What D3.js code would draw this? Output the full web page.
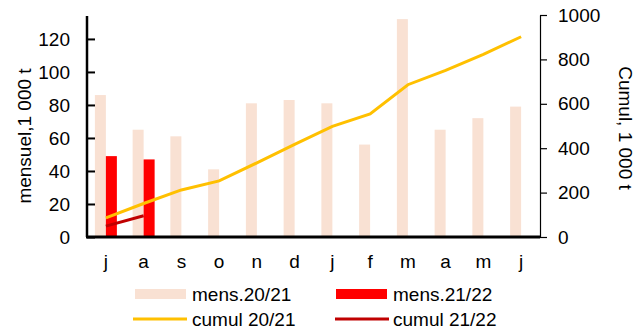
<!DOCTYPE html>
<html><head><meta charset="utf-8">
<script src="https://cdn.jsdelivr.net/npm/d3@7"></script>
<style>
body{margin:0;background:#fff;}
text{font-family:"Liberation Sans",Arial,sans-serif;fill:#000;}
</style></head>
<body>
<svg id="c" width="643" height="335"></svg>
<script>
const months = ["j","a","s","o","n","d","j","f","m","a","m","j"];
const mens2021 = [86,65,61,41,81,83,81,56,132,65,72,79];
const mens2122 = [49,47];
const cumul2021 = [86,151,212,253,334,417,498,554,686,751,823,902];
const cumul2122 = [49,96];
const leftTicks = [0,20,40,60,80,100,120];
const rightTicks = [0,200,400,600,800,1000];

const svg = d3.select("#c");
const L = 87, R = 540, T = 15, B = 237;
const idx = months.map((d,i)=>i);
const x = d3.scaleBand().domain(idx).range([L,R]).padding(0);
const bw = 11;
const yL = d3.scaleLinear().domain([0,134.5]).range([B,T]);
const yR = d3.scaleLinear().domain([0,1000]).range([B,T]);
const cx = i => x(i) + x.bandwidth()/2;

// bars
svg.append("g").selectAll("rect").data(mens2021).join("rect")
  .attr("x",(d,i)=>cx(i)-bw).attr("width",bw)
  .attr("y",d=>yL(d)).attr("height",d=>B-yL(d)).attr("fill","#f9e1d3");
svg.append("g").selectAll("rect").data(mens2122).join("rect")
  .attr("x",(d,i)=>cx(i)).attr("width",bw)
  .attr("y",d=>yL(d)).attr("height",d=>B-yL(d)).attr("fill","#ff0000");

// lines
const line = d3.line().x((d,i)=>cx(i)).y(d=>yR(d));
svg.append("path").datum(cumul2021).attr("d",line).attr("fill","none")
  .attr("stroke","#ffc000").attr("stroke-width",3);
svg.append("path").datum(cumul2122).attr("d",line).attr("fill","none")
  .attr("stroke","#c00000").attr("stroke-width",3);

// left axis
const gl = svg.append("g").attr("transform",`translate(${L},0)`)
  .call(d3.axisLeft(yL).tickValues(leftTicks).tickSizeInner(-8).tickSizeOuter(0).tickPadding(17));
gl.select(".domain").attr("stroke","#000").attr("stroke-width",2.5).attr("d",`M0,${T+1}V${B}`);
gl.selectAll(".tick line").attr("stroke","#000").attr("stroke-width",2);
gl.selectAll(".tick text").attr("font-size",19).attr("font-family","Liberation Sans, Arial, sans-serif");

// right axis
const gr = svg.append("g").attr("transform",`translate(${R},0)`)
  .call(d3.axisRight(yR).tickValues(rightTicks).tickFormat(d3.format("d")).tickSizeInner(7).tickSizeOuter(0).tickPadding(11));
gr.select(".domain").attr("stroke","#000").attr("stroke-width",1.2);
gr.selectAll(".tick line").attr("stroke","#000").attr("stroke-width",1.2);
gr.selectAll(".tick text").attr("font-size",19).attr("font-family","Liberation Sans, Arial, sans-serif");

// bottom axis
const gb = svg.append("g").attr("transform",`translate(0,${B})`)
  .call(d3.axisBottom(x).tickFormat(i=>months[i]).tickSize(0).tickPadding(18));
gb.select(".domain").attr("stroke","#000").attr("stroke-width",3).attr("d",`M${L-1},0H${R}`);
gb.selectAll(".tick text").attr("font-size",19).attr("font-family","Liberation Sans, Arial, sans-serif");

// axis titles
svg.append("text").attr("transform","translate(31,136) rotate(-90)")
  .attr("text-anchor","middle").attr("font-size",19).text("mensuel,1 000 t");
svg.append("text").attr("transform","translate(619,128) rotate(90)")
  .attr("text-anchor","middle").attr("font-size",19).text("Cumul, 1 000 t");

// legend
const leg = svg.append("g");
leg.append("rect").attr("x",135).attr("y",289).attr("width",51).attr("height",10).attr("fill","#f9e1d3");
leg.append("text").attr("x",192).attr("y",301).attr("font-size",19).text("mens.20/21");
leg.append("rect").attr("x",336).attr("y",289).attr("width",51).attr("height",10).attr("fill","#ff0000");
leg.append("text").attr("x",393).attr("y",301).attr("font-size",19).text("mens.21/22");
leg.append("line").attr("x1",133).attr("x2",187).attr("y1",319).attr("y2",319).attr("stroke","#ffc000").attr("stroke-width",3);
leg.append("text").attr("x",192).attr("y",326).attr("font-size",19).text("cumul 20/21");
leg.append("line").attr("x1",335).attr("x2",389).attr("y1",319).attr("y2",319).attr("stroke","#c00000").attr("stroke-width",3);
leg.append("text").attr("x",393).attr("y",326).attr("font-size",19).text("cumul 21/22");
</script>
</body></html>
